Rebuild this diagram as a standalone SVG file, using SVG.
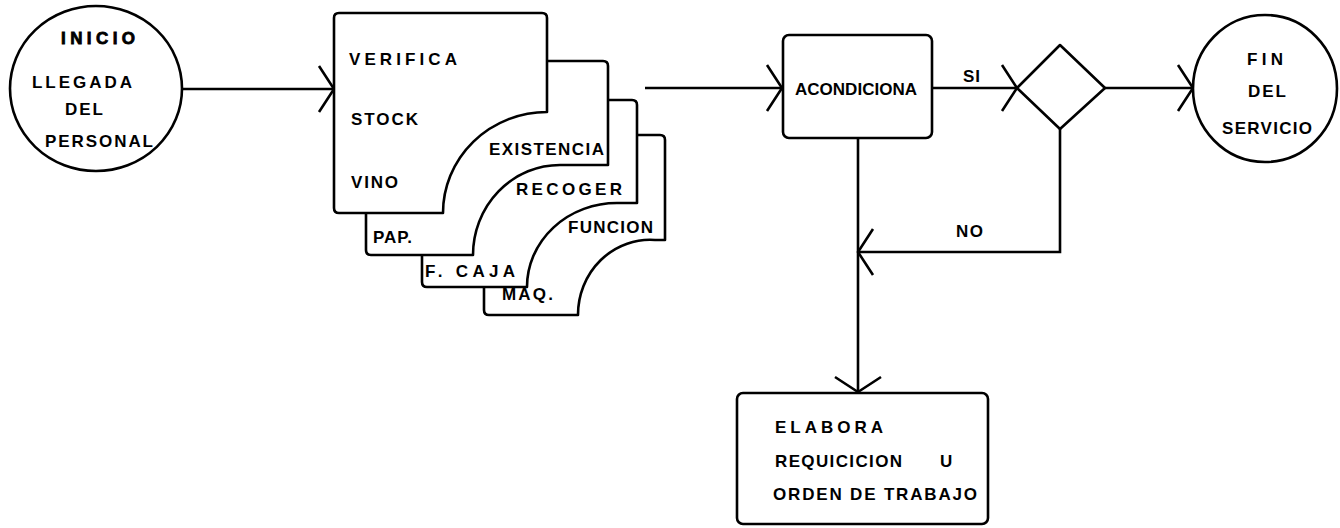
<svg xmlns="http://www.w3.org/2000/svg" width="1340" height="528" viewBox="0 0 1340 528">
<style>
.shape{fill:#fff;stroke:#000;stroke-width:2.6;stroke-linejoin:round}
.line{fill:none;stroke:#000;stroke-width:2.6}
text{font-family:"Liberation Sans",Arial,sans-serif;font-weight:bold;font-size:17px;fill:#000}
.heavy{stroke:#000;stroke-width:0.8}
</style>
<defs>
<marker id="arr" viewBox="-20 -30 40 60" markerWidth="40" markerHeight="60" refX="0" refY="0" orient="auto" markerUnits="userSpaceOnUse">
<path d="M-15,-23 L0,0 L-15,23" fill="none" stroke="#000" stroke-width="2.6"/>
</marker>
</defs>
<rect width="1340" height="528" fill="#fff"/>
<g id="connectors">
<path class="line" d="M182,89 H334" marker-end="url(#arr)"/>
<path class="line" d="M645,88 H782" marker-end="url(#arr)"/>
<path class="line" d="M932,88 H1017" marker-end="url(#arr)"/>
<path class="line" d="M1105,88 H1193" marker-end="url(#arr)"/>
<path class="line" d="M1060,129 V252 H858" marker-end="url(#arr)"/>
<path class="line" d="M858,138 V392" marker-end="url(#arr)"/>
<text x="963" y="82" textLength="17" lengthAdjust="spacing">SI</text>
<text x="956" y="237" textLength="27" lengthAdjust="spacing">NO</text>
</g>
<g id="inicio">
<ellipse class="shape" cx="96" cy="88.5" rx="86" ry="82.5"/>
<text class="heavy" x="61" y="44" textLength="74" lengthAdjust="spacing">INICIO</text>
<text x="32" y="88" textLength="100" lengthAdjust="spacing">LLEGADA</text>
<text x="65" y="115" textLength="38" lengthAdjust="spacing">DEL</text>
<text x="45" y="147" textLength="108" lengthAdjust="spacing">PERSONAL</text>
</g>
<g id="card-maq">
<path class="shape" d="M489,135 H660 Q665,135 665,140 V240 H655 A72,75 0 0 0 578,315 H489 Q484,315 484,310 V140 Q484,135 489,135 Z"/>
<text x="568" y="233" textLength="85" lengthAdjust="spacing">FUNCION</text>
<text x="502" y="300" textLength="51" lengthAdjust="spacing">MAQ.</text>
</g>
<g id="card-caja">
<path class="shape" d="M427,100 H632 Q637,100 637,105 V203 H617 A90,84 0 0 0 527,287 H427 Q422,287 422,282 V105 Q422,100 427,100 Z"/>
<text x="516" y="195" textLength="106" lengthAdjust="spacing">RECOGER</text>
<text x="425" y="277" textLength="90" lengthAdjust="spacing">F. CAJA</text>
</g>
<g id="card-pap">
<path class="shape" d="M371,61 H603 Q608,61 608,66 V165 H560 A87,90 0 0 0 473,255 H371 Q366,255 366,250 V66 Q366,61 371,61 Z"/>
<text x="489" y="155" textLength="115" lengthAdjust="spacing">EXISTENCIA</text>
<text x="373" y="243" textLength="39" lengthAdjust="spacing">PAP.</text>
</g>
<g id="card-verifica">
<path class="shape" d="M339,13 H542 Q547,13 547,18 V112 A104,101 0 0 0 443,213 H339 Q334,213 334,208 V18 Q334,13 339,13 Z"/>
<text x="349" y="65" textLength="108" lengthAdjust="spacing">VERIFICA</text>
<text x="351" y="125" textLength="67" lengthAdjust="spacing">STOCK</text>
<text x="351" y="188" textLength="47" lengthAdjust="spacing">VINO</text>
</g>
<g id="acondiciona">
<rect class="shape" x="783" y="35" width="149" height="103" rx="6"/>
<text x="795" y="95" textLength="122" lengthAdjust="spacing">ACONDICIONA</text>
</g>
<g id="decision">
<path class="shape" d="M1017,88 L1060,45 L1105,88 L1060,129 Z"/>
</g>
<g id="fin">
<ellipse class="shape" cx="1265" cy="88.5" rx="72" ry="73.5"/>
<text x="1247" y="65" textLength="36" lengthAdjust="spacing">FIN</text>
<text x="1248" y="97" textLength="38" lengthAdjust="spacing">DEL</text>
<text x="1222" y="134" textLength="90" lengthAdjust="spacing">SERVICIO</text>
</g>
<g id="elabora">
<rect class="shape" x="737" y="393" width="251" height="131" rx="6"/>
<text x="775" y="433" textLength="108" lengthAdjust="spacing">ELABORA</text>
<text x="775" y="467" textLength="127" lengthAdjust="spacing">REQUICICION</text>
<text x="940" y="467" textLength="13" lengthAdjust="spacing">U</text>
<text x="773" y="500" textLength="204" lengthAdjust="spacing">ORDEN DE TRABAJO</text>
</g>
</svg>
